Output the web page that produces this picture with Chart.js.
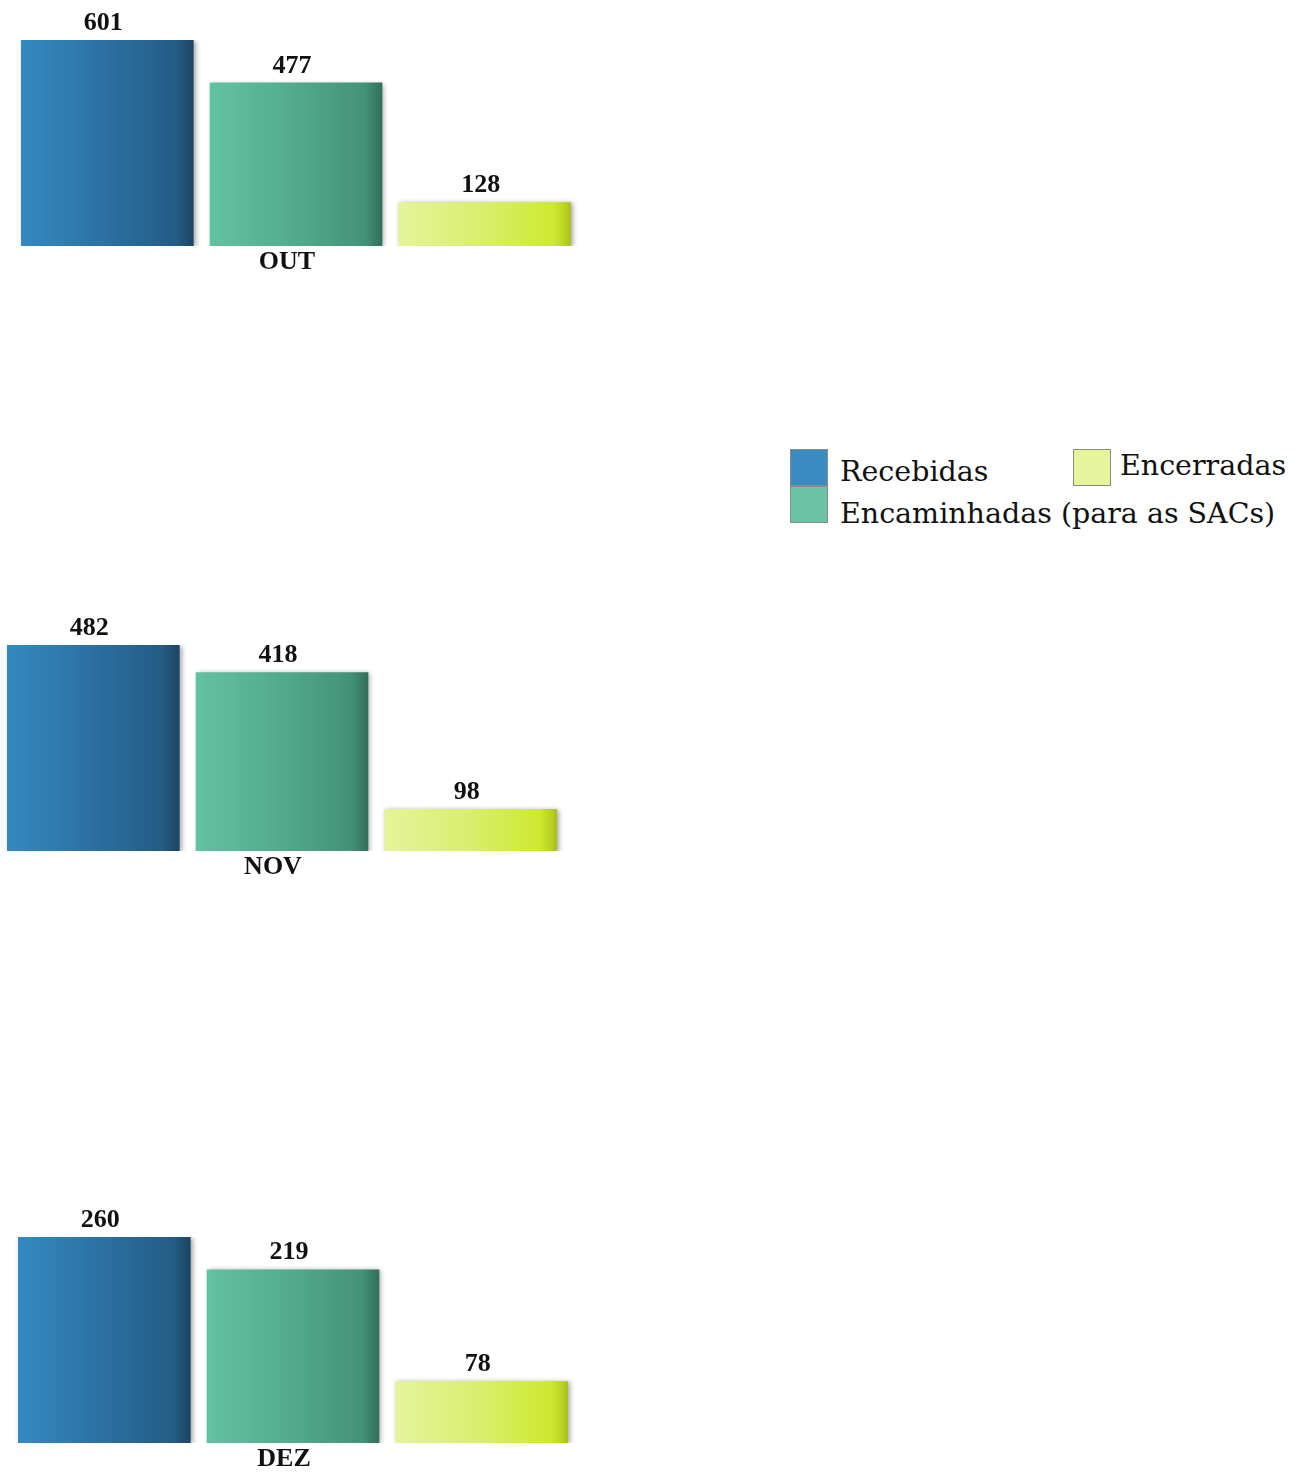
<!DOCTYPE html>
<html><head><meta charset="utf-8">
<script src="https://cdn.jsdelivr.net/npm/chart.js@4/dist/chart.umd.min.js"></script>
<style>
html,body{margin:0;padding:0;background:#fff;width:1301px;height:1472px;overflow:hidden;position:relative;font-family:"DejaVu Serif",serif}
canvas{position:absolute}
.box{position:absolute;width:36px;height:35px;border:1px solid #8a8a8a}
.lt{position:absolute;font-size:28.5px;line-height:28px;color:#111;white-space:nowrap}
</style></head><body>
<canvas id="c0" width="586" height="290" style="left:3px;top:0px"></canvas>
<canvas id="c1" width="586" height="290" style="left:-11px;top:605px"></canvas>
<canvas id="c2" width="586" height="290" style="left:0px;top:1197px"></canvas>
<div id="legend"></div>
<script>
// ---- data ----
const months = ['OUT', 'NOV', 'DEZ'];
const seriesNames = ['Recebidas', 'Encaminhadas (para as SACs)', 'Encerradas'];
const recebidas = [601, 482, 260];
const encaminhadas = [477, 418, 219];
const encerradas = [128, 98, 78];

// ---- styles ----
const gradStops = [
  [[0,'#3489c1'],[0.5,'#2b70a1'],[0.9,'#245c85'],[0.97,'#1f4b6c'],[1,'#1c4463']],
  [[0,'#63c2a3'],[0.5,'#52aa8c'],[0.9,'#439277'],[0.97,'#367862'],[1,'#326f5a']],
  [[0,'#e4f49c'],[0.5,'#d9ee6c'],[0.9,'#cde92f'],[0.97,'#b9d022'],[1,'#a9bd1c']]
];
const legendColors = ['#3a8bc1', '#6bc3a5', '#e6f59c'];
const BP = 0.915;
const labelFont = 'bold 26px "Liberation Serif"';

const shadowPlugin = {
  id: 'barShadow',
  beforeDatasetsDraw(chart) {
    const c = chart.ctx; c.save();
    c.shadowColor = 'rgba(0,0,0,0.35)'; c.shadowBlur = 5; c.shadowOffsetX = 2; c.shadowOffsetY = 1;
  },
  afterDatasetsDraw(chart) { chart.ctx.restore(); }
};
const valuePlugin = {
  id: 'values',
  afterDatasetsDraw(chart) {
    const c = chart.ctx;
    chart.data.datasets.forEach((ds, i) => {
      chart.getDatasetMeta(i).data.forEach((el, j) => {
        c.save();
        c.font = labelFont;
        c.fillStyle = '#111';
        c.textAlign = 'center';
        c.textBaseline = 'alphabetic';
        c.fillText(String(ds.data[j]), el.x - 4, el.y - 10);
        c.restore();
      });
    });
  }
};

function gradFor(di) {
  return (ctx) => {
    const ch = ctx.chart, a = ch.chartArea;
    if (!a) return gradStops[di][0][1];
    const slot = (a.right - a.left) / 3;
    const x0 = a.left + slot * di + slot * (1 - BP) / 2;
    const x1 = x0 + slot * BP;
    const g = ch.ctx.createLinearGradient(x0, 0, x1, 0);
    gradStops[di].forEach(s => g.addColorStop(s[0], s[1]));
    return g;
  };
}

const seriesData = [recebidas, encaminhadas, encerradas];
months.forEach((m, k) => {
  const vals = seriesData.map(s => s[k]);
  new Chart(document.getElementById('c' + k), {
    type: 'bar',
    data: {
      labels: [m],
      datasets: seriesNames.map((name, di) => ({
        label: name,
        data: [seriesData[di][k]],
        backgroundColor: gradFor(di),
        borderWidth: 0,
        categoryPercentage: 1,
        barPercentage: BP
      }))
    },
    options: {
      responsive: false,
      animation: false,
      events: [],
      layout: { padding: { top: 40, left: 10, right: 10, bottom: 0 } },
      plugins: { legend: { display: false }, tooltip: { enabled: false } },
      scales: {
        y: { display: false, min: 0, max: Math.max(...vals) },
        x: {
          grid: { display: false, drawTicks: false },
          border: { display: false },
          ticks: { font: { family: 'Liberation Serif', size: 26, weight: 'bold' }, color: '#111', padding: 1, labelOffset: -9 },
          afterFit: s => { s.height = 44; }
        }
      }
    },
    plugins: [shadowPlugin, valuePlugin]
  });
});

// ---- legend ----
const lg = document.getElementById('legend');
const boxPos = [[790, 449], [790, 486], [1073, 449]];
const textPos = [[840, 458], [840, 500], [1120, 452]];
seriesNames.forEach((n, i) => {
  const b = document.createElement('div');
  b.className = 'box';
  b.style.left = boxPos[i][0] + 'px'; b.style.top = boxPos[i][1] + 'px';
  b.style.background = legendColors[i];
  lg.appendChild(b);
  const t = document.createElement('div');
  t.className = 'lt';
  t.style.left = textPos[i][0] + 'px'; t.style.top = textPos[i][1] + 'px';
  t.textContent = n;
  lg.appendChild(t);
});
</script>
</body></html>
